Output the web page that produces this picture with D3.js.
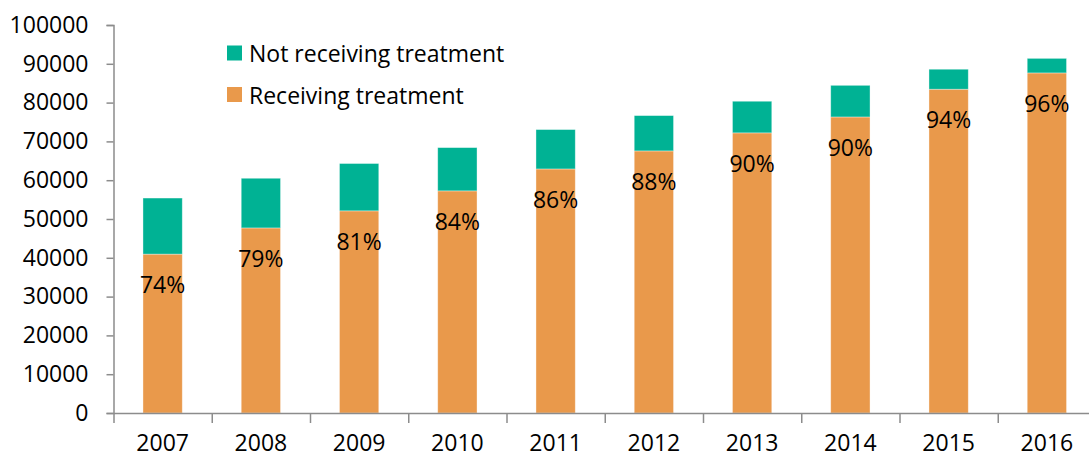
<!DOCTYPE html>
<html>
<head>
<meta charset="utf-8">
<script src="https://cdn.jsdelivr.net/npm/d3@7"></script>
<style>
  body { margin: 0; background: #fff; }
  text { font-family: "Open Sans", sans-serif; }
</style>
</head>
<body>
<script>
// datos
const years = ["2007", "2008", "2009", "2010", "2011", "2012", "2013", "2014", "2015", "2016"]
const receiving = [40950, 47700, 52100, 57250, 62900, 67550, 72200, 76300, 83450, 87650]
const notReceiving = [14450, 12800, 12200, 11150, 10150, 9100, 8150, 8150, 5150, 3750]
const pctLabels = ["74%", "79%", "81%", "84%", "86%", "88%", "90%", "90%", "94%", "96%"]
const yTicks = [0, 10000, 20000, 30000, 40000, 50000, 60000, 70000, 80000, 90000, 100000]

const colorRec = "#e9994b"
const colorNot = "#00b294"
const axisColor = "#8c8c8c"

const width = 1089, height = 458
const margin = {top: 25, right: 0, bottom: 45, left: 113.5}
const plotRight = 1096

const svg = d3.select("body").append("svg")
    .attr("width", width)
    .attr("height", height)

const datos = years.map((y, i) => ({year: y, rec: receiving[i], not: notReceiving[i], pct: pctLabels[i]}))

const series = d3.stack().keys(["rec", "not"])(datos)

// EJE X
const x = d3.scaleBand()
    .domain(years)
    .range([margin.left, plotRight])
    .paddingInner(0.6)
    .paddingOuter(0.3)

// EJE Y
const y = d3.scaleLinear()
    .domain([0, 100000])
    .range([height - margin.bottom, margin.top])

const y0 = y(0)

// barras
svg.append("g")
  .selectAll("g")
  .data(series)
  .join("g")
    .attr("fill", d => d.key == "rec" ? colorRec : colorNot)
  .selectAll("rect")
  .data(d => d)
  .join("rect")
    .attr("x", d => x(d.data.year))
    .attr("width", x.bandwidth())
    .attr("y", d => y(d[1]))
    .attr("height", d => y(d[0]) - y(d[1]))
    .attr("stroke", "#fff")
    .attr("stroke-opacity", 0.45)
    .attr("stroke-width", 0.8)

// porcentajes
svg.append("g")
  .selectAll("text")
  .data(datos)
  .join("text")
    .attr("x", d => x(d.year) + x.bandwidth() / 2)
    .attr("y", d => y(d.rec) + 30)
    .attr("text-anchor", "middle")
    .attr("dominant-baseline", "central")
    .attr("font-size", 23)
    .attr("fill", "#000")
    .text(d => d.pct)

// eje y
const gy = svg.append("g")
    .attr("transform", "translate(" + margin.left + ",0)")
    .call(d3.axisLeft(y).tickValues(yTicks).tickFormat(d3.format("d")).tickSize(7).tickPadding(18))
gy.select(".domain").attr("stroke", axisColor).attr("stroke-width", 1.5)
gy.selectAll(".tick line").attr("stroke", axisColor).attr("stroke-width", 1.5)
gy.selectAll(".tick text").attr("font-size", 23).attr("fill", "#000").attr("font-family", "Open Sans")

// eje x: marcas entre categorias
const xb = d3.scaleLinear().domain([0, years.length]).range([margin.left, plotRight])
const gx = svg.append("g")
    .attr("transform", "translate(0," + y0 + ")")
    .call(d3.axisBottom(xb).tickValues(d3.range(years.length + 1)).tickFormat("").tickSize(10).tickSizeOuter(0))
gx.select(".domain").attr("stroke", axisColor).attr("stroke-width", 1.5)
gx.selectAll(".tick line").attr("stroke", axisColor).attr("stroke-width", 1.5)

const gxl = svg.append("g")
    .attr("transform", "translate(0," + y0 + ")")
    .call(d3.axisBottom(x).tickSize(0).tickPadding(22))
gxl.select(".domain").remove()
gxl.selectAll(".tick text").attr("font-size", 23).attr("fill", "#000").attr("font-family", "Open Sans")

// leyenda
const legend = [
  {label: "Not receiving treatment", color: colorNot},
  {label: "Receiving treatment", color: colorRec}
]
const lg = svg.append("g")
lg.selectAll("rect")
  .data(legend)
  .join("rect")
    .attr("x", 227)
    .attr("y", (d, i) => 45.5 + i * 41.5)
    .attr("width", 15)
    .attr("height", 15)
    .attr("fill", d => d.color)
lg.selectAll("text")
  .data(legend)
  .join("text")
    .attr("x", 249)
    .attr("y", (d, i) => 53 + i * 41.5)
    .attr("dominant-baseline", "central")
    .attr("font-size", 23)
    .attr("fill", "#000")
    .text(d => d.label)
</script>
</body>
</html>
